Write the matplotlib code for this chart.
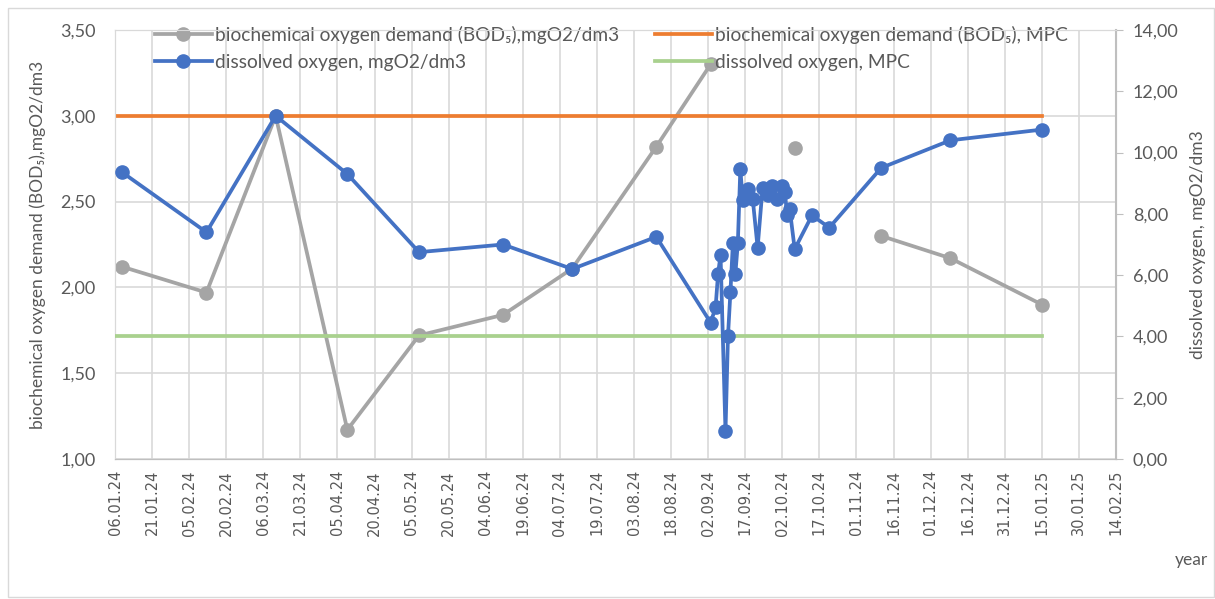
import matplotlib
matplotlib.use("Agg")
import matplotlib.pyplot as plt
import matplotlib.dates as mdates
import numpy as np
import pandas as pd
from matplotlib.patches import Rectangle

# data
dates = ["09.01.24", "12.02.24", "11.03.24", "09.04.24", "08.05.24", "11.06.24",
         "09.07.24", "12.08.24", "03.09.24", "05.09.24", "06.09.24", "07.09.24",
         "09.09.24", "10.09.24", "11.09.24", "12.09.24", "13.09.24", "14.09.24",
         "15.09.24", "16.09.24", "18.09.24", "20.09.24", "22.09.24", "24.09.24",
         "26.09.24", "28.09.24", "30.09.24", "02.10.24", "03.10.24", "04.10.24",
         "05.10.24", "07.10.24", "14.10.24", "21.10.24", "11.11.24", "09.12.24",
         "15.01.25"]
bod = [2.12, 1.97, 3.00, 1.17, 1.72, 1.84, 2.11, 2.82, 3.30, np.nan, np.nan, np.nan,
       np.nan, np.nan, np.nan, np.nan, np.nan, np.nan, np.nan, np.nan, np.nan, np.nan,
       np.nan, np.nan, np.nan, np.nan, np.nan, np.nan, np.nan, np.nan, np.nan, 2.81,
       np.nan, np.nan, 2.30, 2.17, 1.90]
do = [9.35, 7.40, 11.20, 9.30, 6.75, 7.00, 6.20, 7.25, 4.45, 4.95, 6.05, 6.65,
      0.90, 4.00, 5.45, 7.05, 6.05, 7.05, 9.45, 8.45, 8.80, 8.50, 6.90, 8.85,
      8.60, 8.90, 8.50, 8.90, 8.70, 7.95, 8.15, 6.85, 7.95, 7.55, 9.50, 10.40,
      10.75]
mpc_dates = ["06.01.24", "15.01.25"]
bod_mpc = [3.0, 3.0]
do_mpc = [4.0, 4.0]

x = pd.to_datetime(dates, format="%d.%m.%y")
xm = pd.to_datetime(mpc_dates, format="%d.%m.%y")
ticks = pd.date_range("2024-01-06", "2025-02-14", freq="15D")

text_color = "#595959"
grid_color = "#D9D9D9"
c_gray = "#A5A5A5"
c_orange = "#ED7D31"
c_blue = "#4472C4"
c_green = "#A9D18E"

plt.rcParams["font.family"] = ["Lato", "DejaVu Sans"]
plt.rcParams["text.color"] = text_color

fig = plt.figure(figsize=(12.15, 5.99), dpi=100)
fig.patches.append(Rectangle((8 / 1215, 0.003), 1 - 9 / 1215, 1 - 8 / 599 - 0.003,
                             transform=fig.transFigure, fill=False,
                             edgecolor=grid_color, linewidth=1))
ax = fig.add_axes([115 / 1215, 1 - 459 / 599, (1116 - 115) / 1215, (459 - 30) / 599])
ax2 = ax.twinx()

lw = 2.7
ms = 9.5
l1, = ax.plot(x, bod, color=c_gray, lw=lw, marker="o", ms=ms, zorder=3,
              label="biochemical oxygen demand (BOD\u2085),mgO2/dm3")
l2, = ax.plot(xm, bod_mpc, color=c_orange, lw=lw, zorder=3,
              label="biochemical oxygen demand (BOD\u2085), MPC")
l3, = ax2.plot(x, do, color=c_blue, lw=lw, marker="o", ms=ms, zorder=4,
               label="dissolved oxygen, mgO2/dm3")
l4, = ax2.plot(xm, do_mpc, color=c_green, lw=lw, zorder=3,
               label="dissolved oxygen, MPC")

ax.set_xlim(ticks[0], ticks[-1])
ax.set_xticks(ticks)
ax.xaxis.set_major_formatter(mdates.DateFormatter("%d.%m.%y"))
for lab in ax.get_xticklabels():
    lab.set_rotation(90)
    lab.set_family("DejaVu Sans")
    lab.set_fontsize(10.5)
ax.tick_params(axis="x", length=0, colors=text_color, pad=8)

ax.set_ylim(1.0, 3.5)
yt = np.arange(1.0, 3.51, 0.5)
ax.set_yticks(yt)
ax.set_yticklabels([f"{v:.2f}".replace(".", ",") for v in yt], fontsize=13)
ax.tick_params(axis="y", length=0, colors=text_color, pad=14)

ax2.set_ylim(0, 14)
yt2 = np.arange(0, 14.1, 2)
ax2.set_yticks(yt2)
ax2.set_yticklabels([f"{v:.2f}".replace(".", ",") for v in yt2], fontsize=13)
ax2.tick_params(axis="y", length=5, color="#BFBFBF", colors=text_color, pad=7)
ax2.tick_params(axis="y", color="#BFBFBF")

ax.grid(True, color=grid_color, lw=1.2)
ax.set_axisbelow(True)
for a in (ax, ax2):
    for s in a.spines.values():
        s.set_color(grid_color)
ax.spines["bottom"].set_color("#BFBFBF")
ax2.spines["bottom"].set_color("#BFBFBF")
ax2.spines["right"].set_color("#BFBFBF")
ax2.spines["right"].set_linewidth(1.5)

ax.set_ylabel("biochemical oxygen demand (BOD\u2085),mgO2/dm3", fontsize=12.5,
              color=text_color, labelpad=10)
ax2.set_ylabel("dissolved oxygen, mgO2/dm3", fontsize=12.5, color=text_color,
               labelpad=8)
fig.text(1175 / 1215, 1 - 560 / 599, "year", fontsize=12.5, color=text_color,
         ha="left", va="center")

ax.legend(handles=[l1, l3, l2, l4], ncol=2, frameon=False, fontsize=13.8,
          loc="upper left", bbox_to_anchor=(145 / 1215, 1 - 16 / 599),
          bbox_transform=fig.transFigure, handlelength=3.0, handletextpad=0.15,
          columnspacing=1.85, labelspacing=0.55, borderpad=0,
          labelcolor=text_color)

fig.savefig("out.png", dpi=100)
